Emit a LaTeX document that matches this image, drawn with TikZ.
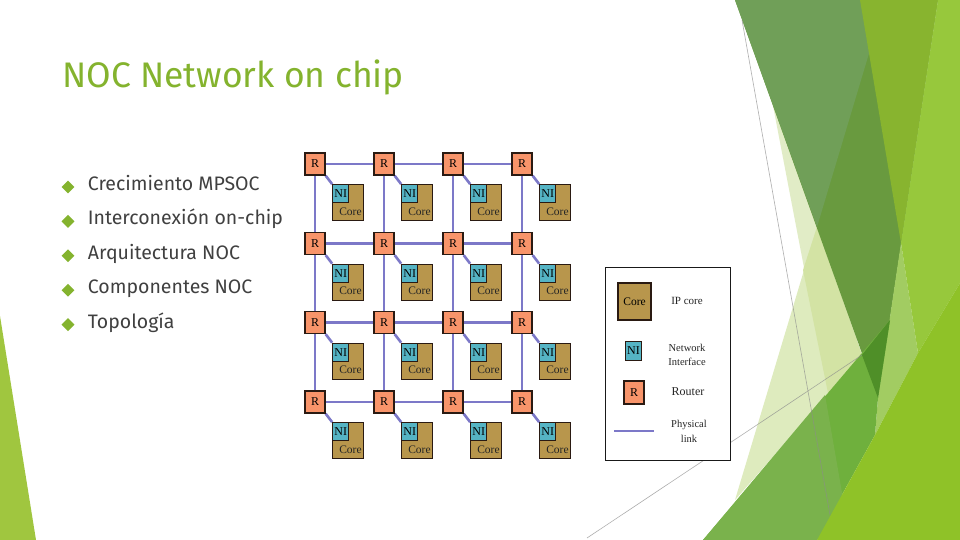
\documentclass[tikz,border=0pt]{standalone}
\usepackage{fontspec}
\setmainfont{Fira Sans}
\newfontfamily\figfont{Liberation Serif}
\usetikzlibrary{positioning}
\usetikzlibrary{backgrounds}
\usetikzlibrary{shapes.geometric}
\definecolor{routerfill}{HTML}{F8946A}
\definecolor{nifill}{HTML}{55B4C4}
\definecolor{corefill}{HTML}{B8964C}
\definecolor{linkcol}{HTML}{7C78C8}
\definecolor{edgecol}{HTML}{2A1A12}
\definecolor{titlecol}{HTML}{84B32E}
\definecolor{bodycol}{HTML}{404040}
\tikzset{
 router/.style={draw=edgecol,line width=1.3pt,fill=routerfill,minimum width=20pt,minimum height=22pt,inner sep=0pt,font=\figfont\fontsize{12}{12}\selectfont},
 nibox/.style={draw=edgecol,line width=1.3pt,fill=nifill,minimum width=16pt,minimum height=18pt,inner sep=0pt,font=\figfont\fontsize{12}{12}\selectfont},
 corebox/.style={draw=edgecol,line width=1.3pt,fill=corefill,minimum width=31pt,minimum height=36pt,inner sep=0pt},
 corelabel/.style={font=\figfont\fontsize{11.5}{12}\selectfont,text=black!85,inner sep=0pt},
 plink/.style={draw=linkcol,line width=2.6pt},
 legendtext/.style={font=\figfont\fontsize{11}{12}\selectfont,text=black!85,inner sep=0pt,align=center},
 bulletmark/.style={diamond,fill=titlecol,minimum width=13pt,minimum height=13pt,inner sep=0pt},
 itemtext/.style={font=\fontsize{19.5}{22}\selectfont,text=bodycol,inner sep=0pt,text height=11pt,text depth=4pt},
 guide/.style={draw=black!45,opacity=0.7,line width=0.6pt}
}
\begin{document}
\begin{tikzpicture}[x=1pt,y=-1pt,node distance=13pt]
 \useasboundingbox (0,0) rectangle (960,540);

 % title and list
 \node[anchor=west,inner sep=0pt,text=titlecol,font=\fontsize{35.5}{40}\selectfont] (title) at (62,77) {NOC Network on chip};
 \node[bulletmark] (b1) at (68,187) {};
 \node[bulletmark,below=21pt of b1] (b2) {};
 \node[bulletmark,below=21pt of b2] (b3) {};
 \node[bulletmark,below=21pt of b3] (b4) {};
 \node[bulletmark,below=21pt of b4] (b5) {};
 \node[itemtext,right=13pt of b1,anchor=west] (t1) {Crecimiento MPSOC};
 \node[itemtext,right=13pt of b2,anchor=west] (t2) {Interconexión on-chip};
 \node[itemtext,right=13pt of b3,anchor=west] (t3) {Arquitectura NOC};
 \node[itemtext,right=13pt of b4,anchor=west] (t4) {Componentes NOC};
 \node[itemtext,right=13pt of b5,anchor=west] (t5) {Topología};

 % routers
 \foreach \c/\xx in {1/315,2/384,3/453,4/522}
  \foreach \r/\yy in {1/164,2/243.5,3/322.5,4/402}
   \node[router] (R\c\r) at (\xx,\yy) {R};

 % cores with their interfaces
 \foreach \c in {1,2,3,4}
  \foreach \r in {1,2,3,4} {
   \node[corebox,anchor=north west,xshift=6.5pt,yshift=-8.5pt] (core\c\r) at (R\c\r.south east) {};
   \node[nibox,anchor=north west] (NI\c\r) at (core\c\r.north west) {NI};
   \node[corelabel] (corelab\c\r) at ([xshift=-14pt,yshift=10pt]core\c\r.south east) {Core};
  }

 % legend
 \node[draw=black!90,line width=1pt,minimum width=125pt,minimum height=193pt,inner sep=0pt] (legend) at (667.5,363.5) {};
 \node[corebox,minimum width=33pt,minimum height=37pt,font=\figfont\fontsize{11.5}{12}\selectfont] (corekey) at (634.5,301.5) {Core};
 \node[nibox,minimum width=16pt,minimum height=19pt] (nikey) at (633.5,351) {NI};
 \node[router,minimum width=20pt,minimum height=23pt] (rkey) at (634,392.5) {R};
 \node[legendtext] (ipcore) at (687,301) {IP core};
 \node[legendtext,font=\figfont\fontsize{10.5}{14.5}\selectfont] (nilab) at (687,355) {Network\\Interface};
 \node[legendtext,font=\figfont\fontsize{12}{12}\selectfont] (rlab) at (688,392) {Router};
 \node[legendtext,font=\figfont\fontsize{10.5}{15}\selectfont] (linklab) at (689,431) {Physical\\link};
 \coordinate (linkA) at (614,431);
 \coordinate (linkB) at (654,431);

 \begin{pgfonlayer}{background}
 \fill[white] (0,0) rectangle (960,540);
 % background facets
 \fill[color={rgb,255:red,225;green,236;blue,198}] (770,90) -- (828,393) -- (880,300) -- (817,227) -- cycle;
 \fill[color={rgb,255:red,222;green,235;blue,190}] (817,227) -- (735,500) -- (862,355) -- cycle;
 \fill[color={rgb,255:red,211;green,227;blue,164}] (817,227) -- (803,270) -- (828,393) -- (862,355) -- cycle;
 \fill[color={rgb,255:red,105;green,154;blue,63}] (735,0) -- (938,0) -- (878,398) -- cycle;
 \fill[color={rgb,255:red,112;green,159;blue,88}] (735,0) -- (885,0) -- (817,227) -- cycle;
 \fill[color={rgb,255:red,162;green,204;blue,98}] (901,243) -- (918,353) -- (875,435) -- (878,398) -- cycle;
 \fill[color={rgb,255:red,136;green,180;blue,47}] (860,0) -- (938,0) -- (901,243) -- cycle;
 \fill[color={rgb,255:red,151;green,200;blue,60}] (938,0) -- (960,0) -- (960,283) -- (918,353) -- (901,243) -- cycle;
 \fill[color={rgb,255:red,111;green,176;blue,61}] (890,320) -- (878,398) -- (875,435) -- (817,540) -- (703,540) -- cycle;
 \fill[color={rgb,255:red,122;green,178;blue,76}] (703,540) -- (825,395) -- (845,510) -- (817,540) -- cycle;
 \fill[color={rgb,255:red,79;green,143;blue,40}] (862,355) -- (890,320) -- (878,398) -- cycle;
 \fill[color={rgb,255:red,143;green,194;blue,40}] (960,283) -- (918,353) -- (875,435) -- (817,540) -- (960,540) -- cycle;
 \fill[color={rgb,255:red,160;green,198;blue,63}] (0,316) -- (36,540) -- (0,540) -- cycle;
 \draw[guide] (742,20) -- (830,515);
 \draw[guide] (587,538) -- (862,355);
 \fill[white] (legend.south west) rectangle (legend.north east);

 % links
 \foreach \c in {1,2,3,4}
  \foreach \r/\n in {1/2,2/3,3/4}
   \draw[plink] (R\c\r) -- (R\c\n);
 \foreach \r in {1,2,3,4}
  \foreach \c/\n in {1/2,2/3,3/4}
   \draw[plink] (R\c\r) -- (R\n\r);
 \foreach \c in {1,2,3,4}
  \foreach \r in {1,2,3,4}
   \draw[plink] (R\c\r.south east) -- (NI\c\r.north west);
 \draw[plink] (linkA) -- (linkB);
 \end{pgfonlayer}
\end{tikzpicture}
\end{document}
